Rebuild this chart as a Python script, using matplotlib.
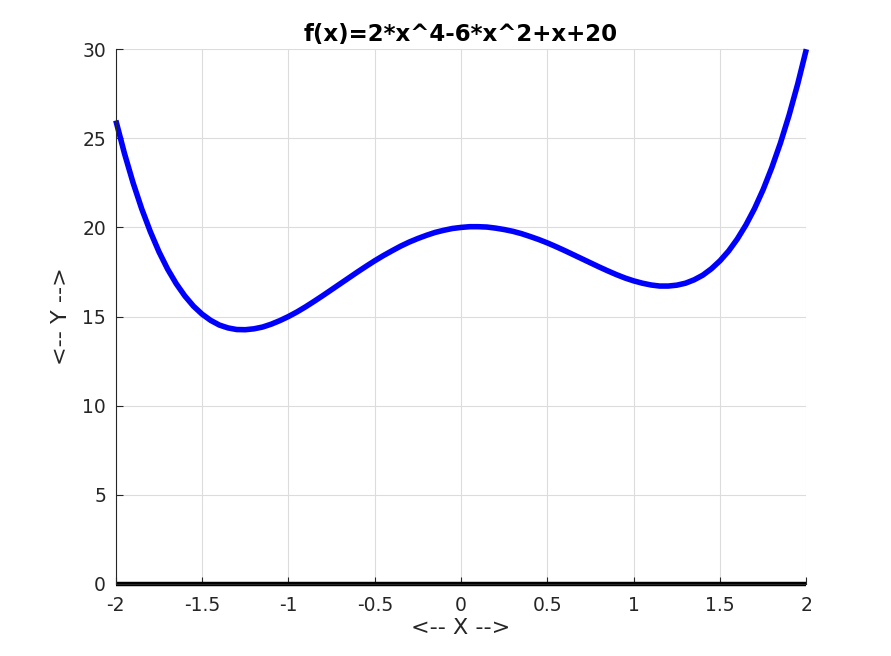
import matplotlib
matplotlib.use("Agg")
import matplotlib.pyplot as plt

# values, step 0.05
x_vals = [-2.00, -1.95, -1.90, -1.85, -1.80, -1.75, -1.70, -1.65, -1.60, -1.55,
          -1.50, -1.45, -1.40, -1.35, -1.30, -1.25, -1.20, -1.15, -1.10, -1.05,
          -1.00, -0.95, -0.90, -0.85, -0.80, -0.75, -0.70, -0.65, -0.60, -0.55,
          -0.50, -0.45, -0.40, -0.35, -0.30, -0.25, -0.20, -0.15, -0.10, -0.05,
          0.00, 0.05, 0.10, 0.15, 0.20, 0.25, 0.30, 0.35, 0.40, 0.45,
          0.50, 0.55, 0.60, 0.65, 0.70, 0.75, 0.80, 0.85, 0.90, 0.95,
          1.00, 1.05, 1.10, 1.15, 1.20, 1.25, 1.30, 1.35, 1.40, 1.45,
          1.50, 1.55, 1.60, 1.65, 1.70, 1.75, 1.80, 1.85, 1.90, 1.95, 2.00]
y_vals = [26.00, 24.15, 22.50, 21.04, 19.76, 18.63, 17.66, 16.84, 16.15, 15.58,
          15.13, 14.78, 14.52, 14.36, 14.27, 14.26, 14.31, 14.41, 14.57, 14.77,
          15.00, 15.26, 15.55, 15.86, 16.18, 16.51, 16.84, 17.17, 17.50, 17.82,
          18.13, 18.42, 18.69, 18.95, 19.18, 19.38, 19.56, 19.72, 19.84, 19.94,
          20.00, 20.04, 20.04, 20.02, 19.96, 19.88, 19.78, 19.65, 19.49, 19.32,
          19.13, 18.92, 18.70, 18.47, 18.24, 18.01, 17.78, 17.56, 17.35, 17.16,
          17.00, 16.87, 16.77, 16.71, 16.71, 16.76, 16.87, 17.06, 17.32, 17.68,
          18.13, 18.68, 19.35, 20.14, 21.06, 22.13, 23.36, 24.74, 26.30, 28.05, 30.00]
zero_x = [-2, 2]
zero_y = [0, 0]

x_ticks = [-2, -1.5, -1, -0.5, 0, 0.5, 1, 1.5, 2]
x_labels = ["-2", "-1.5", "-1", "-0.5", "0", "0.5", "1", "1.5", "2"]
y_ticks = [0, 5, 10, 15, 20, 25, 30]

fig = plt.figure(figsize=(8.91, 6.56), dpi=100)
ax = fig.add_axes([0.13, 0.11, 0.775, 0.815])

ax.plot(x_vals, y_vals, color="#0000ff", linewidth=4, solid_capstyle="butt", clip_on=False)
ax.plot(zero_x, zero_y, color="black", linewidth=3.2, solid_capstyle="butt", clip_on=False)

ax.set_xlim(-2, 2)
ax.set_ylim(0, 30)
ax.set_xticks(x_ticks)
ax.set_xticklabels(x_labels)
ax.set_yticks(y_ticks)
ax.grid(True, color="#dcdcdc", linewidth=0.8)
ax.set_axisbelow(True)

ax.spines["top"].set_visible(False)
ax.spines["right"].set_visible(False)
ax.spines["left"].set_color("#262626")
ax.spines["bottom"].set_color("#262626")
ax.tick_params(direction="in", length=5, labelsize=13.5, colors="#262626")
ax.tick_params(axis="x", pad=9)
ax.tick_params(axis="y", pad=7)

ax.set_title("f(x)=2*x^4-6*x^2+x+20", fontsize=16.5, fontweight="bold", pad=6)
ax.set_xlabel("<-- X -->", fontsize=16, color="#262626", labelpad=2)
ax.set_ylabel("<-- Y -->", fontsize=16, color="#262626", labelpad=8)

fig.savefig("out.png", dpi=100)
